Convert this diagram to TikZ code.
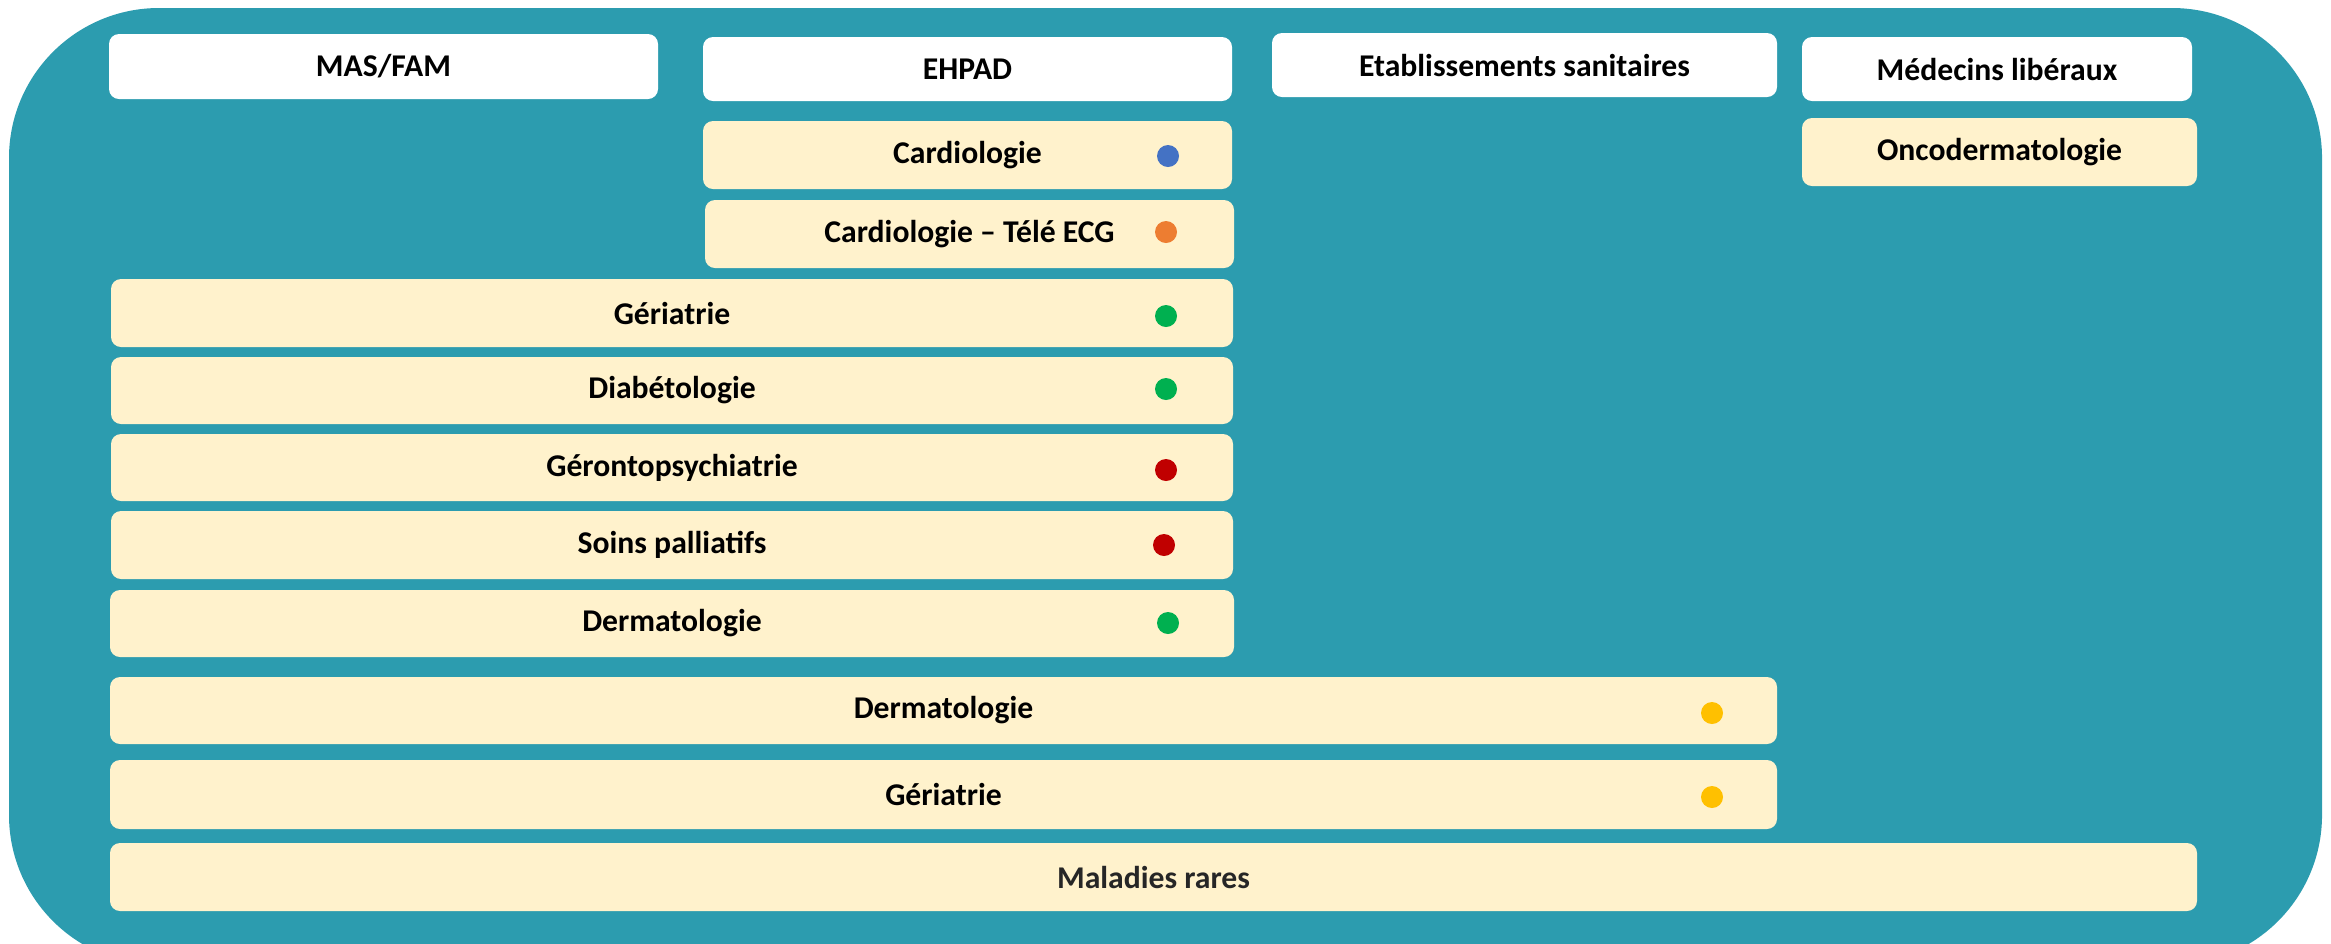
\documentclass[tikz,border=0pt]{standalone}
\usepackage{fontspec}
\setmainfont{Carlito}
\definecolor{bgteal}{HTML}{2C9CAF}
\definecolor{cream}{HTML}{FFF2CC}
\definecolor{dblue}{HTML}{4472C4}
\definecolor{dorange}{HTML}{ED7D31}
\definecolor{dgreen}{HTML}{00B050}
\definecolor{dred}{HTML}{C00000}
\definecolor{dyellow}{HTML}{FFC000}
\definecolor{dgray}{HTML}{262626}
\tikzset{
  cell/.style 2 args={rounded corners=3pt, inner sep=0pt, minimum width=#1*0.3pt, minimum height=#2*0.3pt,
    font=\fontsize{9.5}{11}\selectfont\bfseries, text=black},
  headbox/.style 2 args={cell={#1}{#2}, fill=white},
  creambox/.style 2 args={cell={#1}{#2}, fill=cream},
  dot/.style={circle, inner sep=0pt, minimum size=6.6pt}
}
\begin{document}
\begin{tikzpicture}[x=0.3pt,y=-0.3pt]
\useasboundingbox (0,0) rectangle (2331,943);
\begin{scope}
\clip (0,0) rectangle (2331,943);
\fill[bgteal, rounded corners=45pt] (9,8) rectangle (2322,965);
\end{scope}
% headers
\node[headbox={549}{65}] (mas) at (383.5,66.5) {MAS/FAM};
\node[headbox={529}{64}] (ehpad) at (967.5,69) {EHPAD};
\node[headbox={505}{64}] (etab) at (1524.5,65) {Etablissements sanitaires};
\node[headbox={390}{64}] (med) at (1997,69) {Médecins libéraux};
% cream boxes
\node[creambox={395}{68}] (onco) at (1999.5,152) {Oncodermatologie};
\node[creambox={529}{68}] (card) at (967.5,155) {Cardiologie};
\node[creambox={529}{68}] (tele) at (969.5,234) {Cardiologie – Télé ECG};
\node[creambox={1122}{68}] (ger1) at (672,313) {Gériatrie};
\node[creambox={1122}{67}] (diab) at (672,390.5) {Diabétologie};
\node[creambox={1122}{67}] (geronto) at (672,467.5) {Gérontopsychiatrie};
\node[creambox={1122}{68}] (soins) at (672,545) {Soins palliatifs};
\node[creambox={1124}{67}] (derm1) at (672,623.5) {Dermatologie};
\node[creambox={1667}{67}] (derm2) at (943.5,710.5) {Dermatologie};
\node[creambox={1667}{69}] (ger2) at (943.5,794.5) {Gériatrie};
\node[creambox={2087}{68}, text=dgray] (mal) at (1153.5,877) {Maladies rares};
% dots
\node[dot, fill=dblue] (d1) at (1168,156) {};
\node[dot, fill=dorange] (d2) at (1166,232) {};
\node[dot, fill=dgreen] (d3) at (1166,316) {};
\node[dot, fill=dgreen] (d4) at (1166,389) {};
\node[dot, fill=dred] (d5) at (1166,470) {};
\node[dot, fill=dred] (d6) at (1164,545) {};
\node[dot, fill=dgreen] (d7) at (1168,623) {};
\node[dot, fill=dyellow] (d8) at (1712,713) {};
\node[dot, fill=dyellow] (d9) at (1712,797) {};
\end{tikzpicture}
\end{document}
